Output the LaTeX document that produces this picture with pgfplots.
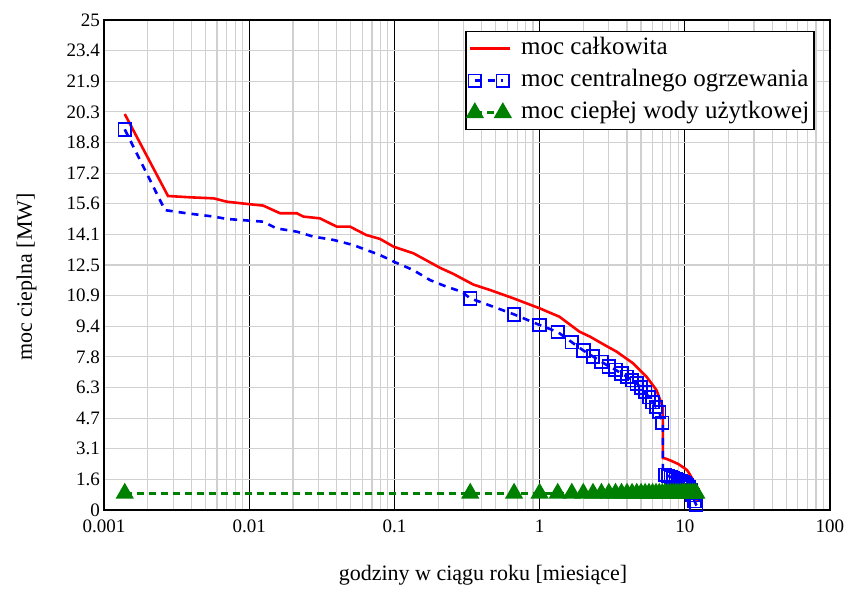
\documentclass[border=0pt]{standalone}
\usepackage{fontspec}
\setmainfont{Liberation Serif}
\usepackage{pgfplots}
\pgfplotsset{compat=1.18}
\definecolor{dgreen}{RGB}{0,128,0}
\definecolor{gridgray}{RGB}{208,208,208}
\pgfplotsset{
  longline legend/.style={legend image code/.code={\draw[##1] (0pt,0pt) -- (40pt,0pt);}},
  twomark legend/.style={legend image code/.code={\draw[mark repeat=2, mark phase=1, ##1] plot coordinates {(5pt,0pt) (19pt,0pt) (33pt,0pt)};}},
}
\begin{document}
\begin{tikzpicture}
\begin{axis}[
  name=ax,
  scale only axis,
  width=726pt, height=490pt,
  xmode=log, xmin=0.001, xmax=100, ymin=0, ymax=25,
  xtick={0.001,0.01,0.1,1,10,100},
  xticklabels={0.001,0.01,0.1,1,10,100},
  ytick={0,1.5625,3.125,4.6875,6.25,7.8125,9.375,10.9375,12.5,14.0625,15.625,17.1875,18.75,20.3125,21.875,23.4375,25},
  yticklabels={0,1.6,3.1,4.7,6.3,7.8,9.4,10.9,12.5,14.1,15.6,17.2,18.8,20.3,21.9,23.4,25},
  xmajorgrids, xminorgrids, ymajorgrids,
  major x grid style={black, line width=1pt},
  minor x grid style={gridgray, line width=1.2pt},
  major y grid style={gridgray, line width=1.2pt},
  major tick length=0pt, minor tick length=0pt,
  axis line style={black, line width=1.8pt},
  /pgf/number format/assume math mode=true,
  tick label style={font=\fontsize{19}{22}\selectfont},
  yticklabel style={inner sep=0pt, xshift=-4pt},
  xticklabel style={inner sep=0pt, yshift=-10pt},
  xlabel={godziny w ciągu roku [miesiące]},
  ylabel={moc cieplna [MW]},
  label style={font=\fontsize{22}{26}\selectfont},
  xlabel style={at={(axis description cs:0.522,-0.1429)}, anchor=base},
  ylabel style={at={(axis description cs:-0.0992,0.4755)}, anchor=base},
  legend style={at={(1,1)}, anchor=north east, xshift=-15pt, yshift=-11pt,
    draw=black, line width=1.5pt, font=\fontsize{25}{28}\selectfont,
    inner xsep=2pt, inner ysep=1pt, row sep=0pt,
    nodes={inner xsep=3pt, inner ysep=3.5pt, text height=18pt, text depth=7pt},
    /tikz/every odd column/.append style={column sep=7pt}},
  legend cell align=left,
]
% moc calkowita
\addplot[red, line width=2.6pt, forget plot] coordinates {
(0.00139,20.20) (0.00276,16.02) (0.0040,15.95) (0.0057,15.90) (0.0070,15.73)
(0.0101,15.60) (0.0125,15.53) (0.0163,15.14) (0.0213,15.14) (0.0236,14.97)
(0.0307,14.88) (0.040,14.46) (0.0494,14.46) (0.064,14.03) (0.0796,13.83)
(0.099,13.43) (0.135,13.10) (0.207,12.35) (0.254,12.05) (0.35,11.50)
(0.457,11.22) (0.66,10.80) (1.0,10.29) (1.37,9.86) (1.88,9.10) (2.23,8.84)
(2.8,8.42) (3.39,8.08) (4.41,7.48) (5.45,6.80) (6.38,6.12) (6.9,5.44)
(7.06,5.25) (7.07,2.65) (7.333,2.63) (8.0,2.52) (9.0,2.35) (10.0,2.12)
(10.333,2.04) (10.667,1.90) (11.0,1.72) (11.4,1.53) (11.7,1.30) (12.0,1.05)
(12.1,0.70) (12.17,0.40)
};
% moc centralnego ogrzewania - line
\addplot[blue, dash pattern=on 7pt off 6pt, line width=2.6pt, forget plot] coordinates {
(0.00139,19.42) (0.00263,15.30) (0.0037,15.14) (0.0057,14.97) (0.0070,14.85)
(0.0101,14.76) (0.0125,14.71) (0.0154,14.37) (0.0213,14.20) (0.0276,13.95)
(0.038,13.78) (0.052,13.52) (0.064,13.27) (0.0796,13.01) (0.099,12.67)
(0.135,12.24) (0.176,11.73) (0.229,11.39) (0.29,11.14) (0.333,10.80)
(0.48,10.37) (0.667,9.98) (1.0,9.44) (1.333,9.08) (1.667,8.56) (2.0,8.14)
(2.333,7.83) (2.667,7.56) (3.0,7.33) (3.333,7.15) (3.667,6.96) (4.0,6.80)
(4.333,6.62) (4.667,6.45) (5.0,6.25) (5.333,6.02) (5.667,5.75) (6.0,5.50)
(6.333,5.25) (6.667,5.00) (7.0,4.45) (7.06,4.40) (7.07,1.88) (7.333,1.80)
(7.667,1.74) (8.0,1.68) (8.333,1.62) (8.667,1.57) (9.0,1.52) (9.333,1.47)
(9.667,1.41) (10.0,1.35) (10.333,1.27) (10.667,1.17) (11.0,1.02)
(11.333,0.75) (11.667,0.45) (12.0,0.25) (12.17,0.20)
};
% moc centralnego ogrzewania - marks
\addplot[blue, only marks, mark=square, mark size=6.3pt, mark options={solid, line width=1.8pt}, forget plot] coordinates {
(0.00139,19.42) (0.333,10.80) (0.667,9.98) (1.0,9.44) (1.333,9.08) (1.667,8.56)
(2.0,8.14) (2.333,7.83) (2.667,7.56) (3.0,7.33) (3.333,7.15) (3.667,6.96)
(4.0,6.80) (4.333,6.62) (4.667,6.45) (5.0,6.25) (5.333,6.02) (5.667,5.75)
(6.0,5.50) (6.333,5.25) (6.667,5.00) (7.0,4.45) (7.333,1.80) (7.667,1.74)
(8.0,1.68) (8.333,1.62) (8.667,1.57) (9.0,1.52) (9.333,1.47) (9.667,1.41)
(10.0,1.35) (10.333,1.27) (10.667,1.17) (11.0,1.02) (11.333,0.75)
(11.667,0.45) (12.0,0.25)
};
% moc cieplej wody uzytkowej
\addplot[dgreen, dash pattern=on 7pt off 5pt, line width=2.6pt, mark=triangle*, mark size=8pt, mark options={solid}, forget plot] coordinates {
(0.00139,0.85) (0.333,0.85) (0.667,0.85) (1.0,0.85) (1.333,0.85) (1.667,0.85)
(2.0,0.85) (2.333,0.85) (2.667,0.85) (3.0,0.85) (3.333,0.85) (3.667,0.85)
(4.0,0.85) (4.333,0.85) (4.667,0.85) (5.0,0.85) (5.333,0.85) (5.667,0.85)
(6.0,0.85) (6.333,0.85) (6.667,0.85) (7.0,0.85) (7.333,0.85) (7.667,0.85)
(8.0,0.85) (8.333,0.85) (8.667,0.85) (9.0,0.85) (9.333,0.85) (9.667,0.85)
(10.0,0.85) (10.333,0.85) (10.667,0.85) (11.0,0.85) (11.333,0.85)
(11.667,0.85) (12.0,0.85)
};
\addlegendimage{red, line width=2.6pt, longline legend}
\addlegendentry{moc całkowita}
\addlegendimage{blue, dash pattern=on 7pt off 6pt, line width=2.6pt, mark=square, mark size=6.3pt, mark options={solid, line width=1.8pt}, twomark legend}
\addlegendentry{moc centralnego ogrzewania}
\addlegendimage{dgreen, dash pattern=on 7pt off 5pt, line width=2.6pt, mark=triangle*, mark size=8pt, mark options={solid}, twomark legend}
\addlegendentry{moc ciepłej wody użytkowej}
\end{axis}
\path ([shift={(-104pt,-77pt)}]ax.south west) rectangle ([shift={(22pt,20pt)}]ax.north east);
\end{tikzpicture}
\end{document}
